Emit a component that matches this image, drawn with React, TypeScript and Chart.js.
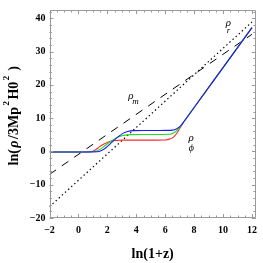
import React, { useEffect, useRef } from "react";
import { Chart, registerables } from "chart.js";

Chart.register(...registerables);

// ---- data ----
const radX = [-2, 12];
const radY = [-16.6, 38.9];
const matX = [-2, 12];
const matY = [-6.9, 35.2];

const redX = [-2, 0, 0.85, 1.1, 1.4, 1.7, 2.0, 2.3, 2.6, 3.0, 4, 5, 6.0, 6.3, 6.6, 6.85, 7.1, 7.4, 8, 10, 12];
const redY = [-0.15, -0.15, -0.1, 0.3, 1.2, 2.1, 2.7, 3.1, 3.3, 3.4, 3.4, 3.4, 3.45, 3.7, 4.4, 5.8, 7.6, 9.6, 13.2, 25.2, 37.2];

const greenX = [-2, 0, 1.1, 1.4, 1.7, 2.0, 2.3, 2.6, 2.9, 3.2, 3.6, 4.5, 5.5, 6.3, 6.6, 6.85, 7.1, 7.4, 8, 10, 12];
const greenY = [-0.15, -0.15, -0.1, 0.4, 1.3, 2.3, 3.2, 4.0, 4.6, 4.9, 5.05, 5.1, 5.1, 5.15, 5.6, 6.45, 7.8, 9.6, 13.2, 25.2, 37.2];

const blueX = [-2, 0, 1.3, 1.6, 1.9, 2.2, 2.5, 2.8, 3.1, 3.4, 3.8, 4.5, 5.5, 6.2, 6.5, 6.8, 7.05, 7.3, 8, 10, 12];
const blueY = [-0.15, -0.15, -0.1, 0.3, 1.1, 2.3, 3.5, 4.6, 5.5, 6.0, 6.25, 6.3, 6.3, 6.32, 6.4, 6.85, 7.6, 9.0, 13.2, 25.2, 37.2];

const xTickValues = [-2, 0, 2, 4, 6, 8, 10, 12];
const yTickValues = [-20, -10, 0, 10, 20, 30, 40];

const X_MIN = -2;
const X_MAX = 12.27;
const Y_MIN = -20;
const Y_MAX = 42.5;

const pts = (xs: number[], ys: number[]) => xs.map((x, i) => ({ x, y: ys[i] }));
const fmt = (v: number) => (v < 0 ? "\u2212" + Math.abs(v) : String(v));

const SERIF = '"Liberation Serif", "DejaVu Serif", serif';

const framePlugin = {
  id: "frameTicks",
  afterDraw(chart: any) {
    const { ctx, chartArea: a, scales } = chart;
    const xs = scales.x;
    const ys = scales.y;
    ctx.save();
    ctx.strokeStyle = "#9a9a9a";
    ctx.lineWidth = 1;
    ctx.beginPath();
    ctx.rect(Math.round(a.left) + 0.5, Math.round(a.top) + 0.5, Math.round(a.right - a.left) - 1, Math.round(a.bottom - a.top) - 1);
    ctx.stroke();
    ctx.beginPath();
    for (let i = 0; i <= 28; i++) {
      const v = X_MIN + i * 0.5;
      const px = Math.round(xs.getPixelForValue(v)) + 0.5;
      const major = i % 4 === 0;
      const len = major ? 4 : 2.5;
      ctx.moveTo(px, a.bottom);
      ctx.lineTo(px, a.bottom - len);
      ctx.moveTo(px, a.top);
      ctx.lineTo(px, a.top + len);
    }
    for (let i = 0; i <= 31; i++) {
      const v = Y_MIN + i * 2;
      if (v > Y_MAX) break;
      const py = Math.round(ys.getPixelForValue(v)) + 0.5;
      const major = i % 5 === 0;
      const len = major ? 4 : 2.5;
      ctx.moveTo(a.left, py);
      ctx.lineTo(a.left + len, py);
      ctx.moveTo(a.right, py);
      ctx.lineTo(a.right - len, py);
    }
    ctx.stroke();

    ctx.fillStyle = "#000";
    ctx.textBaseline = "alphabetic";
    ctx.textAlign = "center";
    ctx.font = `bold 14px ${SERIF}`;
    ctx.fillText("ln(1+z)", (a.left + a.right) / 2, 258);

    const segs: { t: string; sup?: boolean; it?: boolean }[] = [
      { t: "ln(" },
      { t: "\u03C1", it: true },
      { t: "/3Mp" },
      { t: "2", sup: true },
      { t: "H0" },
      { t: "2", sup: true },
      { t: " )" },
    ];
    const fontFor = (s: any) =>
      s.sup ? `bold 9px ${SERIF}` : s.it ? `italic bold 14px ${SERIF}` : `bold 14px ${SERIF}`;
    const gap = 1.5;
    let total = 0;
    for (const s of segs) {
      ctx.font = fontFor(s);
      total += ctx.measureText(s.t).width + gap;
    }
    ctx.save();
    ctx.translate(18, (a.top + a.bottom) / 2 + 1);
    ctx.rotate(-Math.PI / 2);
    ctx.textAlign = "left";
    let cx = -total / 2;
    for (const s of segs) {
      ctx.font = fontFor(s);
      ctx.fillText(s.t, cx, s.sup ? -9 : 0);
      cx += ctx.measureText(s.t).width + gap;
    }
    ctx.restore();

    const lab = (t: string, xv: number, yv: number, size: number) => {
      ctx.font = `italic ${size}px ${SERIF}`;
      ctx.textAlign = "center";
      ctx.textBaseline = "middle";
      ctx.fillText(t, xs.getPixelForValue(xv), ys.getPixelForValue(yv));
    };
    lab("\u03C1", 10.37, 38.5, 11);
    lab("r", 10.37, 36.2, 9);
    lab("\u03C1", 3.63, 16.6, 11);
    lab("m", 3.95, 14.9, 9);
    lab("\u03C1", 7.8, 3.9, 11);
    lab("\u03D5", 7.8, 0.8, 10);
    ctx.restore();
  },
};

export default function App() {
  const ref = useRef<HTMLCanvasElement | null>(null);
  useEffect(() => {
    document.body.style.margin = "0";
    const canvas = ref.current;
    if (!canvas) return;
    const lineDs = (label: string, data: any[], color: string, extra: any = {}) => ({
      label,
      data,
      borderColor: color,
      backgroundColor: color,
      borderWidth: 1.1,
      pointRadius: 0,
      fill: false,
      showLine: true,
      cubicInterpolationMode: "monotone",
      ...extra,
    });
    const chart = new Chart(canvas, {
      type: "scatter",
      data: {
        datasets: [
          lineDs("blue", pts(blueX, blueY), "#1a1aff"),
          lineDs("green", pts(greenX, greenY), "#22dd22"),
          lineDs("red", pts(redX, redY), "#ff2a2a"),
          lineDs("rad", pts(radX, radY), "#000", { borderDash: [1.4, 2.8], borderWidth: 1.2 }),
          lineDs("mat", pts(matX, matY), "#000", { borderDash: [8, 7], borderWidth: 1 }),
        ],
      },
      options: {
        animation: false,
        responsive: true,
        maintainAspectRatio: false,
        devicePixelRatio: 1,
        layout: { padding: { top: 1, right: 1.7, left: 0, bottom: 0 } },
        plugins: { legend: { display: false }, tooltip: { enabled: false } },
        scales: {
          x: {
            type: "linear",
            min: X_MIN,
            max: X_MAX,
            grid: { display: false, drawTicks: false },
            border: { display: false },
            afterBuildTicks: (s: any) => {
              s.ticks = xTickValues.map((v) => ({ value: v }));
            },
            afterFit: (s: any) => {
              s.height = 45;
            },
            ticks: {
              padding: 6,
              color: "#000",
              maxRotation: 0,
              autoSkip: false,
              font: { family: SERIF, size: 10, weight: "bold" },
              callback: (v: any) => fmt(Number(v)),
            },
          },
          y: {
            type: "linear",
            min: Y_MIN,
            max: Y_MAX,
            grid: { display: false, drawTicks: false },
            border: { display: false },
            afterBuildTicks: (s: any) => {
              s.ticks = yTickValues.map((v) => ({ value: v }));
            },
            afterFit: (s: any) => {
              s.width = 49.5;
            },
            ticks: {
              padding: 4,
              color: "#000",
              autoSkip: false,
              font: { family: SERIF, size: 10, weight: "bold" },
              callback: (v: any) => fmt(Number(v)),
            },
          },
        },
      } as any,
      plugins: [framePlugin],
    });
    return () => chart.destroy();
  }, []);
  return (
    <div style={{ width: 263, height: 263, position: "relative" }}>
      <canvas ref={ref} />
    </div>
  );
}
